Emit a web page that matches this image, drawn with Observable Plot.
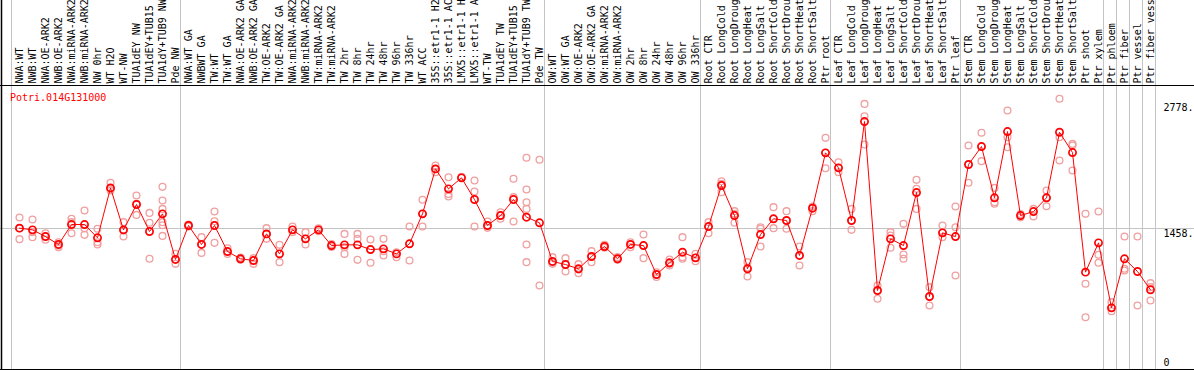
<!DOCTYPE html>
<html><head><meta charset="utf-8">
<script src="https://cdn.jsdelivr.net/npm/d3@7"></script>
<script src="https://cdn.jsdelivr.net/npm/@observablehq/plot@0.6"></script>
<style>body{margin:0;background:#fff} svg{display:block}</style>
</head><body><div id="chart"></div>
<script>
const geneId = "Potri.014G131000";

const categories = [
  "NWA:WT","NWB:WT","NWA:OE-ARK2","NWB:OE-ARK2","NWA:miRNA-ARK2","NWB:miRNA-ARK2","NW 0hr","WT H2O","WT-NW","TUA1dEY NW","TUA1dEY+TUB15","TUA1dY+TUB9 NW","Pde NW",
  "NWA:WT GA","NWBWT GA","TW:WT","TW:WT GA","NWA:OE-ARK2 GA","NWB:OE-ARK2 GA","TW:OE-ARK2","TW:OE-ARK2 GA","NWA:miRNA-ARK2","NWB:miRNA-ARK2","TW:miRNA-ARK2","TW:miRNA-ARK2",
  "TW 2hr","TW 8hr","TW 24hr","TW 48hr","TW 96hr","TW 336hr","WT ACC","35S::etr1-1 H2","35S::etr1-1 AC","LMX5::etr1-1 H","LMX5::etr1-1 A","WT-TW","TUA1dEY TW","TUA1dEY+TUB15","TUA1dY+TUB9 TW","Pde TW",
  "OW:WT","OW:WT GA","OW:OE-ARK2","OW:OE-ARK2 GA","OW:miRNA-ARK2","OW:miRNA-ARK2","OW 2hr","OW 8hr","OW 24hr","OW 48hr","OW 96hr","OW 336hr",
  "Root CTR","Root LongCold","Root LongDroug","Root LongHeat","Root LongSalt","Root ShortCold","Root ShortDrou","Root ShortHeat","Root ShortSalt","Ptr root",
  "Leaf CTR","Leaf LongCold","Leaf LongDroug","Leaf LongHeat","Leaf LongSalt","Leaf ShortCold","Leaf ShortDrou","Leaf ShortHeat","Leaf ShortSalt","Ptr leaf",
  "Stem CTR","Stem LongCold","Stem LongDroug","Stem LongHeat","Stem LongSalt","Stem ShortCold","Stem ShortDrou","Stem ShortHeat","Stem ShortSalt","Ptr shoot","Ptr xylem",
  "Ptr phloem","Ptr fiber","Ptr vessel","Ptr fiber vess"
];

const means = [
  1462,1444,1374,1291,1500,1500,1361,1884,1444,1710,1427,1612,1134,
  1490,1291,1490,1217,1141,1123,1402,1193,1444,1350,1444,1280,
  1287,1287,1238,1245,1193,1298,1612,2083,1874,1989,1762,1490,1594,1762,1577,1518,
  1113,1081,1036,1165,1270,1141,1291,1280,976,1099,1210,1151,
  1479,1909,1594,1036,1395,1560,1542,1176,1671,2251,
  2094,1542,2579,809,1350,1280,1835,746,1413,1374,
  2129,2317,1780,2474,1594,1636,1780,2467,2254,1001,1308,
  627,1141,1008,816
];

const replicates = [
  [1574,1347,1462],[1553,1368,1420],[1409,1340,1374],[1315,1263,1280],[1560,1409,1525],[1647,1460,1392],[1455,1315,1291],[1937,1874,1856],[1525,1374,1437],[1804,1601,1717],[1622,1518,1141],[1895,1752,1664,1525,1493,1381],[1193,1088,1134],
  [1500,1480],[1368,1203,1291],[1636,1535,1308],[1252,1193,1217],[1155,1130,1141],[1148,1088,1123],[1462,1350,1402],[1287,1106,1193],[1479,1420,1444],[1420,1291,1350],[1460,1430],[1295,1265],
  [1402,1193,1263],[1402,1350,1130],[1343,1099,1238],[1350,1175,1220],[1210,1158],[1479,1123,1298],[1759,1479,1612],[2118,2048,2083],[1996,1821,1794],[1989,2000],[1961,1846,1479],[1532,1465,1490],[1629,1560,1594],[1979,1787,1532],[2199,1867,1734,1664,1291,1106],[2178,861],
  [1158,1088,1106],[1148,1008,1081],[1085,1029,990],[1221,1106,1165],[1287,1256],[1158,1130],[1315,1263,1291],[1395,1148,1280],[1000,976,950],[1134,1071,1088],[1368,1141,1158],[1193,1116,1151],
  [1525,1409,1479],[1954,1839,1926],[1640,1518,1612],[1106,1050,955],[1472,1270,1455],[1682,1560,1462],[1640,1455,1542],[1270,1071,1176],[1689,1640,1671],[2408,2090,2251],
  [2153,2048,2094],[1664,1444,1542],[2764,2635,2338],[861,722,809],[1420,1256,1385],[1507,1186,1141],[1968,1874,1664],[844,652,746],[1490,1368,1413],[1689,1472,966],
  [2328,1937,2129],[2461,2164,2317],[1884,1717,1734],[2694,2415,2310],[1610,1575],[1664,1585],[1856,1692,1780],[2817,2415,2171],[2345,2066,2328],[1612,879,529],[1636,1183,1099],
  [687,592,627],[1374,1036,1018],[1374,652],[886,704,844]
];

const groupBreaks = [0,13,41,53,63,73,84,85,86,87,88];
const yTicks = [2778, 1458, 0];
const yTickLabels = ["2778.", "1458.", "0"];
const refLine = 1458;

// layout
const W = 1194, H = 370;
const colW = 13, left = 10.5, ncol = categories.length;
const pointOffset = 8.5 / colW;
const yTopVal = 2956.6, yBotVal = -18.86; // values at the frame top/bottom lines

const xOf = i => i + pointOffset;
const meanRows = means.map((v, i) => ({i, v}));
const repRows = replicates.flatMap((arr, i) => arr.map(v => ({i, v})));

const chart = Plot.plot({
  width: W, height: H,
  marginTop: 0, marginBottom: 0, marginLeft: 0, marginRight: 0,
  style: {fontFamily: "'DejaVu Sans Mono', monospace", fontSize: "10px", background: "#fff"},
  x: {type: "linear", domain: [-left / colW, (W - left) / colW], range: [0, W], axis: null},
  y: {type: "linear", domain: [yBotVal, yTopVal], range: [369, 85], axis: null},
  marks: [
    Plot.ruleX(groupBreaks, {x: d => d, stroke: "#c4c4c4", strokeWidth: 1, shapeRendering: "crispEdges"}),
    Plot.ruleY([refLine], {stroke: "#c4c4c4", strokeWidth: 1, shapeRendering: "crispEdges"}),
    Plot.ruleY([yTopVal, yBotVal], {stroke: "#000", strokeWidth: 1, shapeRendering: "crispEdges"}),
    Plot.ruleX([-left / colW + 1 / colW], {stroke: "#000", strokeWidth: 1.5}),
    Plot.text(categories, {x: (d, i) => xOf(i), text: d => d, frameAnchor: "top", dy: 83, rotate: -90,
      textAnchor: "start", lineAnchor: "middle", fill: "#000", fontSize: 10}),
    Plot.text([geneId], {frameAnchor: "top-left", dx: 9.5, dy: 97, text: d => d, fill: "red",
      textAnchor: "start", lineAnchor: "middle", fontSize: 10}),
    Plot.text(yTicks.slice(0, 2), {x: ncol, y: d => d, text: (d, i) => yTickLabels[i], dx: 8.5, dy: 5,
      textAnchor: "start", lineAnchor: "middle", fill: "#000", fontSize: 10}),
    Plot.text(yTicks.slice(2), {x: ncol, y: d => d, text: (d, i) => yTickLabels[2 + i], dx: 8.5, dy: -5,
      textAnchor: "start", lineAnchor: "middle", fill: "#000", fontSize: 10}),
    Plot.dot(repRows, {x: d => xOf(d.i), y: "v", r: 3.4, stroke: "#f0a0a0", strokeWidth: 1.3, fill: "none"}),
    Plot.line(meanRows, {x: d => xOf(d.i), y: "v", stroke: "red", strokeWidth: 1}),
    Plot.dot(meanRows, {x: d => xOf(d.i), y: "v", r: 3.6, stroke: "red", strokeWidth: 1.7, fill: "none"})
  ]
});
document.getElementById("chart").appendChild(chart);
</script>
</body></html>
